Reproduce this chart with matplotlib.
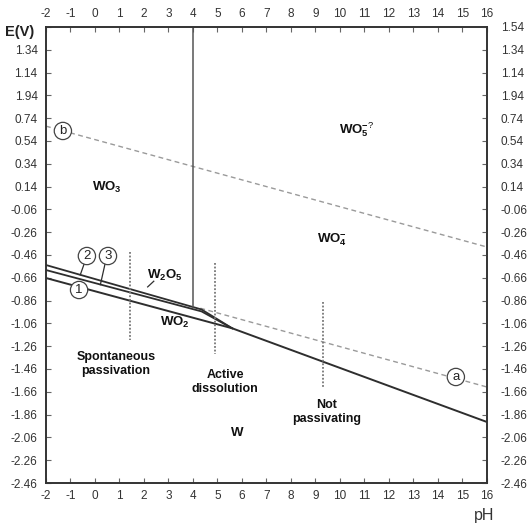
import matplotlib
matplotlib.use("Agg")
import matplotlib.pyplot as plt

plt.rcParams['font.family'] = 'Liberation Sans'
plt.rcParams['mathtext.fontset'] = 'custom'
plt.rcParams['mathtext.rm'] = 'Liberation Sans'
plt.rcParams['mathtext.bf'] = 'Liberation Sans:bold'

# axis ticks
ph_ticks = list(range(-2, 17))
e_ticks = [-2.46 + 0.2 * i for i in range(21)]
e_labels = ["-2.46", "-2.26", "-2.06", "-1.86", "-1.66", "-1.46", "-1.26",
            "-1.06", "-0.86", "-0.66", "-0.46", "-0.26", "-0.06", "0.14",
            "0.34", "0.54", "0.74", "1.94", "1.14", "1.34", "1.54"]

# equilibrium lines (pH, E)
line1_ph = [-2, 5.6, 16]
line1_e = [-0.662, -1.103, -1.925]
line2_ph = [-2, 4.35, 5.6]
line2_e = [-0.592, -0.955, -1.103]
line3_ph = [-2, 4.35, 5.6]
line3_e = [-0.548, -0.938, -1.103]
vert_ph = [4, 4]
vert_e = [1.54, -0.916]

# water lines
line_a_ph = [4.3, 16]
line_a_e = [-0.927, -1.618]
line_b_ph = [-2, 16]
line_b_e = [0.67, -0.39]

# dotted zone markers: pH, E top, E bottom
marker_ph = [1.43, 4.9, 9.31]
marker_top = [-0.434, -0.53, -0.872]
marker_bot = [-1.206, -1.328, -1.627]

fig = plt.figure(figsize=(5.28, 5.25), dpi=100)
ax = fig.add_axes([0.0871, 0.08, 0.8352, 0.8686])
ax.set_xlim(-2, 16)
ax.set_ylim(-2.46, 1.54)

dark = '#2e2e2e'
gray = '#9a9a9a'

ax.plot(line_b_ph, line_b_e, color=gray, lw=1.0, dashes=(3.5, 2.5))
ax.plot(line_a_ph, line_a_e, color=gray, lw=1.0, dashes=(3.5, 2.5))
ax.plot(line1_ph, line1_e, color=dark, lw=1.4)
ax.plot(line2_ph, line2_e, color=dark, lw=1.3)
ax.plot(line3_ph, line3_e, color=dark, lw=1.3)
ax.plot(vert_ph, vert_e, color='#555555', lw=1.1)
for p, t, b in zip(marker_ph, marker_top, marker_bot):
    ax.plot([p, p], [t, b], color='#777777', lw=1.3, ls=(0, (1, 1)))

# leaders for the circled numbers
ax.plot([-0.38, -0.6], [-0.5, -0.634], color=dark, lw=0.9)
ax.plot([0.45, 0.22], [-0.5, -0.72], color=dark, lw=0.9)
ax.plot([2.4, 2.15], [-0.69, -0.74], color=dark, lw=0.9)

circ = dict(boxstyle='circle,pad=0.2', fc='white', ec='#444444', lw=0.9)
for s, x, y in [("2", -0.33, -0.469), ("3", 0.53, -0.469), ("1", -0.65, -0.767),
                ("b", -1.31, 0.628), ("a", 14.73, -1.53)]:
    ax.text(x, y, s, ha='center', va='center', fontsize=9.5, color='#222222',
            bbox=circ, zorder=5)

bold = dict(fontsize=9.5, fontweight='bold', ha='center', va='center', color='#111111')
ax.text(0.49, 0.136, r"WO$_\mathbf{3}$", **bold)
ax.text(10.7, 0.637, r"WO$_\mathbf{5}^\mathbf{-}$$^{\mathrm{?}}$", **bold)
ax.text(9.67, -0.328, r"WO$_\mathbf{4}^\mathbf{-}$", **bold)
ax.text(2.86, -0.636, r"W$_\mathbf{2}$O$_\mathbf{5}$", **bold)
ax.text(3.27, -1.056, r"WO$_\mathbf{2}$", **bold)
ax.text(5.8, -2.02, "W", **bold)
ax.text(0.86, -1.416, "Spontaneous\npassivation", linespacing=1.15, **dict(bold, fontsize=9))
ax.text(5.31, -1.574, "Active\ndissolution", linespacing=1.15, **dict(bold, fontsize=9))
ax.text(9.47, -1.837, "Not\npassivating", linespacing=1.15, **dict(bold, fontsize=9))

ax.set_xticks(ph_ticks)
ax.set_xticklabels([str(v) for v in ph_ticks])
ax.set_yticks(e_ticks)
ax.set_yticklabels(e_labels[:-1] + [""])
ax.tick_params(axis='both', direction='in', length=3.5, width=0.8, color='#666666',
               labelsize=8.5, labelcolor='#333333', top=True, labeltop=True)
ax.tick_params(axis='x', pad=5)
ax.tick_params(axis='y', pad=6)

ax2 = ax.twinx()
ax2.set_ylim(-2.46, 1.54)
ax2.set_yticks(e_ticks)
ax2.set_yticklabels(e_labels)
ax2.tick_params(axis='y', direction='in', length=3.5, width=0.8, color='#666666',
                labelsize=8.5, labelcolor='#333333', pad=10)

for a in (ax, ax2):
    for sp in a.spines.values():
        sp.set_color('#333333')
        sp.set_linewidth(1.2)

fig.text(0.009, 0.939, "E(V)", fontsize=10.5, fontweight='bold', color='#222222',
         ha='left', va='center')
fig.text(0.917, 0.019, "pH", fontsize=11.5, color='#333333', ha='center', va='center')

fig.savefig("out.png", dpi=100)
